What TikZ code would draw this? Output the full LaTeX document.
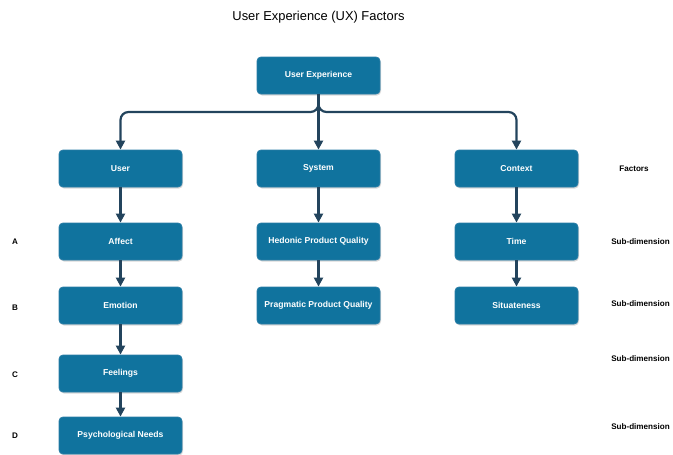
\documentclass[tikz,border=0pt]{standalone}
\usepackage{fontspec}
\setmainfont{Liberation Sans}
\usetikzlibrary{arrows.meta,shadows}
\definecolor{boxfill}{HTML}{10739E}
\definecolor{boxline}{HTML}{2A7DA6}
\definecolor{linkcol}{HTML}{23445D}
\tikzset{
  box/.style={draw=boxline, line width=0.8pt, fill=boxfill, rounded corners=4pt,
    minimum width=123pt, minimum height=37pt, inner sep=0pt,
    text=white, font=\bfseries\fontsize{8.6}{10}\selectfont,
    drop shadow={shadow xshift=1pt, shadow yshift=-1.5pt, opacity=0.25, fill=black!60}},
  side/.style={font=\bfseries\fontsize{8.1}{10}\selectfont, text=black},
  conn/.style={draw=linkcol, line width=2.2pt,
    -{Triangle[width=9pt,length=9pt]}},
}
\begin{document}
\begin{tikzpicture}[x=1pt,y=-1pt]
  \useasboundingbox (0,0) rectangle (673,455);
  % title
  \node[font=\fontsize{12.9}{15}\selectfont] (title) at (318.5,17.5) {User Experience (UX) Factors};
  % boxes
  \node[box] (ue)    at (318.5,75.5)  {User Experience};
  \node[box] (user)  at (120.5,168.5) {User};
  \node[box] (sys)   at (318.5,168.5) {System};
  \node[box] (ctx)   at (516.5,168.5) {Context};
  \node[box] (aff)   at (120.5,241.5) {Affect};
  \node[box] (hed)   at (318.5,241.5) {Hedonic Product Quality};
  \node[box] (time)  at (516.5,241.5) {Time};
  \node[box] (emo)   at (120.5,305.5) {Emotion};
  \node[box] (prag)  at (318.5,305.5) {Pragmatic Product Quality};
  \node[box] (sit)   at (516.5,305.5) {Situateness};
  \node[box] (feel)  at (120.5,373.5) {Feelings};
  \node[box] (psy)   at (120.5,435.5) {Psychological Needs};
  % row labels
  \node[side] (la) at (15,241.5) {A};
  \node[side] (lb) at (15,308) {B};
  \node[side] (lc) at (15,375) {C};
  \node[side] (ld) at (15,436) {D};
  \node[side] (fac) at (634,168.5) {Factors};
  \node[side] (sd1) at (640.5,241.5) {Sub-dimension};
  \node[side] (sd2) at (640.5,304) {Sub-dimension};
  \node[side] (sd3) at (640.5,359) {Sub-dimension};
  \node[side] (sd4) at (640.5,427) {Sub-dimension};
  % connectors
  \coordinate (bus) at (318.5,112);
  \draw[conn, rounded corners=8pt] (ue.south) -- (bus) -| (user.north);
  \draw[conn, rounded corners=8pt] (ue.south) -- (bus) -| (ctx.north);
  \draw[conn] (ue.south) -- (sys.north);
  \draw[conn] (user.south) -- (aff.north);
  \draw[conn] (aff.south) -- (emo.north);
  \draw[conn] (emo.south) -- (feel.north);
  \draw[conn] (feel.south) -- (psy.north);
  \draw[conn] (sys.south) -- (hed.north);
  \draw[conn] (hed.south) -- (prag.north);
  \draw[conn] (ctx.south) -- (time.north);
  \draw[conn] (time.south) -- (sit.north);
\end{tikzpicture}
\end{document}
